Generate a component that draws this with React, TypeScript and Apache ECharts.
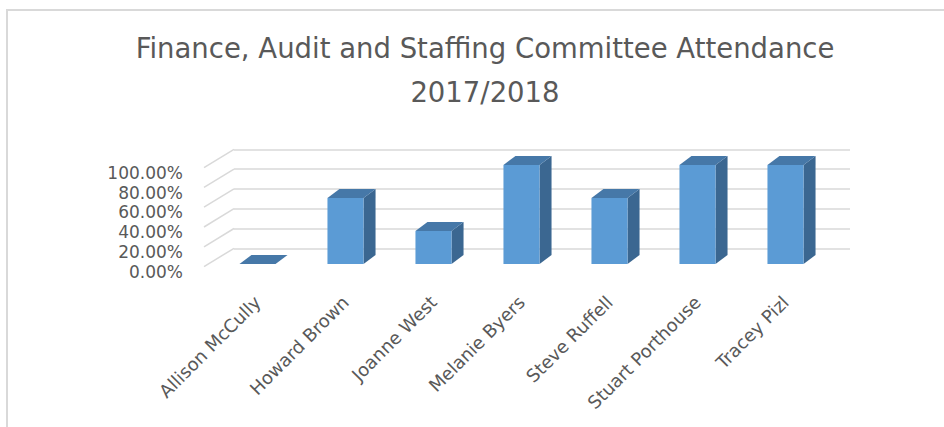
import React, { useEffect, useRef } from 'react';
import * as echarts from 'echarts';

const categories = [
  'Allison McCully',
  'Howard Brown',
  'Joanne West',
  'Melanie Byers',
  'Steve Ruffell',
  'Stuart Porthouse',
  'Tracey Pizl',
];
const attendance = [0, 0.6667, 0.3333, 1, 0.6667, 1, 1];
const yTicks = [0, 0.2, 0.4, 0.6, 0.8, 1];
const titleLines = ['Finance, Audit and Staffing Committee Attendance', '2017/2018'];

export default function App() {
  const ref = useRef<HTMLDivElement>(null);
  useEffect(() => {
    if (!ref.current) return;
    const chart = echarts.init(ref.current, null, { renderer: 'svg' });
    const font = 'DejaVu Sans';
    const textColor = '#595959';
    const gridColor = '#d9d9d9';
    const DEPTH_DX = -30;
    const DEPTH_DY = 18.3;
    const BAR_DX = 12;
    const BAR_DY = -9;
    const frontColor = '#5b9bd5';
    const sideColor = '#3b6791';
    const topColor = '#4678a8';

    const option: any = {
      animation: false,
      backgroundColor: '#ffffff',
      graphic: [
        {
          type: 'rect',
          silent: true,
          z: -10,
          shape: { x: 7, y: 10, width: 1000, height: 1000 },
          style: { fill: 'none', stroke: '#d9d9d9', lineWidth: 2 },
        },
        {
          type: 'text',
          silent: true,
          x: 485,
          y: 48,
          style: {
            text: titleLines[0],
            fontFamily: font,
            fontSize: 27.5,
            fill: textColor,
            align: 'center',
            verticalAlign: 'middle',
          },
        },
        {
          type: 'text',
          silent: true,
          x: 485,
          y: 92,
          style: {
            text: titleLines[1],
            fontFamily: font,
            fontSize: 27.5,
            fill: textColor,
            align: 'center',
            verticalAlign: 'middle',
          },
        },
      ],
      grid: [
        { left: 234, right: 94, top: 149.3, bottom: 178.7 },
        { left: 195, right: 94, top: 173, bottom: 155.3 },
        { left: 213.5, right: 114.5, top: 165, bottom: 163 },
      ],
      xAxis: [
        { gridIndex: 0, type: 'value', min: 0, max: 1, show: false },
        { gridIndex: 1, type: 'value', min: 0, max: 1, show: false },
        {
          gridIndex: 2,
          type: 'category',
          data: categories,
          axisLine: { show: false },
          axisTick: { show: false },
          splitLine: { show: false },
          axisLabel: {
            rotate: 45,
            margin: 35,
            interval: 0,
            color: textColor,
            fontFamily: font,
            fontSize: 18,
          },
        },
      ],
      yAxis: [
        {
          gridIndex: 0,
          type: 'value',
          min: 0,
          max: 1,
          interval: 0.2,
          axisLabel: { show: false },
          axisLine: { show: false },
          axisTick: { show: false },
          splitLine: { lineStyle: { color: gridColor, width: 1.5 } },
        },
        {
          gridIndex: 1,
          type: 'value',
          min: 0,
          max: 1,
          interval: 0.2,
          axisLabel: {
            formatter: (v: number) => (v * 100).toFixed(2) + '%',
            margin: 12,
            color: textColor,
            fontFamily: font,
            fontSize: 17,
          },
          axisLine: { show: false },
          axisTick: { show: false },
          splitLine: { show: false },
        },
        { gridIndex: 2, type: 'value', min: 0, max: 1, show: false },
      ],
      series: [
        {
          type: 'custom',
          silent: true,
          xAxisIndex: 0,
          yAxisIndex: 0,
          data: yTicks.map((v) => [0, v]),
          renderItem: (_params: any, api: any) => {
            const p = api.coord([0, api.value(1)]);
            return {
              type: 'line',
              shape: { x1: p[0] + DEPTH_DX, y1: p[1] + DEPTH_DY, x2: p[0], y2: p[1] },
              style: { stroke: gridColor, lineWidth: 1.5 },
            };
          },
        },
        {
          type: 'custom',
          xAxisIndex: 2,
          yAxisIndex: 2,
          data: attendance.map((v, i) => [i, v]),
          renderItem: (_params: any, api: any) => {
            const i = api.value(0);
            const v = api.value(1);
            const base = api.coord([i, 0]);
            const top = api.coord([i, v]);
            const w = api.size([1, 0])[0] * 0.41;
            const x0 = base[0] - w / 2;
            const x1 = base[0] + w / 2;
            const yb = base[1];
            const yt = top[1];
            return {
              type: 'group',
              children: [
                {
                  type: 'polygon',
                  shape: {
                    points: [
                      [x1, yb],
                      [x1, yt],
                      [x1 + BAR_DX, yt + BAR_DY],
                      [x1 + BAR_DX, yb + BAR_DY],
                    ],
                  },
                  style: { fill: sideColor },
                },
                {
                  type: 'polygon',
                  shape: {
                    points: [
                      [x0, yt],
                      [x1, yt],
                      [x1 + BAR_DX, yt + BAR_DY],
                      [x0 + BAR_DX, yt + BAR_DY],
                    ],
                  },
                  style: { fill: topColor },
                },
                {
                  type: 'rect',
                  shape: { x: x0, y: yt, width: w, height: yb - yt },
                  style: { fill: frontColor },
                },
              ],
            };
          },
        },
      ],
    };
    chart.setOption(option);
    return () => chart.dispose();
  }, []);
  return (
    <div
      ref={ref}
      style={{ position: 'fixed', left: 0, top: 0, width: 944, height: 427 }}
    />
  );
}
